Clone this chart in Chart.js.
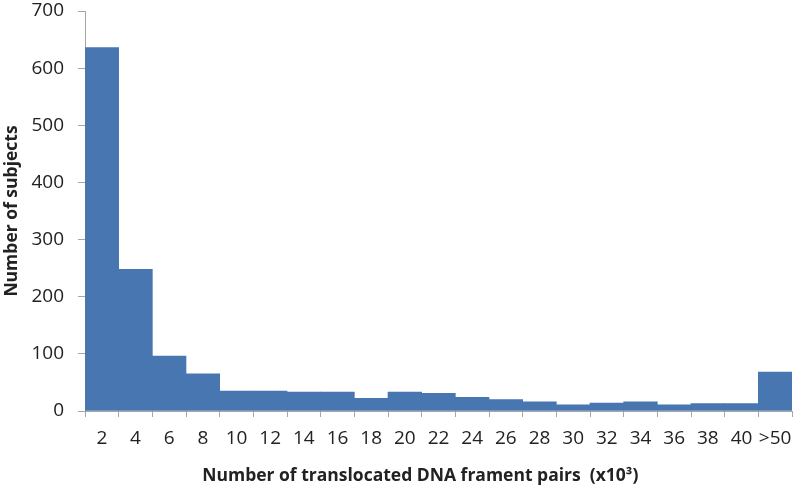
<!DOCTYPE html>
<html>
<head>
<meta charset="utf-8">
<script src="https://cdn.jsdelivr.net/npm/chart.js@4"></script>
<style>
  html, body { margin: 0; padding: 0; background: #ffffff; }
  #wrap { width: 800px; height: 493px; }
</style>
</head>
<body>
<div id="wrap"><canvas id="graphHist"></canvas></div>
<script>
// bins of translocated DNA fragment pairs (x10^3)
const binLabels = ['2', '4', '6', '8', '10', '12', '14', '16', '18', '20', '22',
                   '24', '26', '28', '30', '32', '34', '36', '38', '40', '>50'];
// number of subjects per bin
const subjectCounts = [636, 248, 96, 65, 35, 35, 33, 33, 22, 33, 31,
                       24, 20, 16, 11, 14, 16, 11, 13, 13, 68];
const yTicks = [0, 100, 200, 300, 400, 500, 600, 700];

const textColor = '#222222';
const axisColor = '#a6a6a6';
const fontFamily = "'Open Sans', 'Noto Sans', sans-serif";

const ctx = document.getElementById('graphHist').getContext('2d');

new Chart(ctx, {
    type: 'bar',
    data: {
        labels: binLabels,
        datasets: [{
            label: 'Number of subjects',
            data: subjectCounts,
            backgroundColor: '#4776b0',
            borderWidth: 0,
            barPercentage: 1,
            categoryPercentage: 1
        }]
    },
    options: {
        responsive: true,
        maintainAspectRatio: false,
        animation: false,
        layout: {
            padding: { top: 11, right: 8, left: 0, bottom: 0 }
        },
        plugins: {
            legend: { display: false },
            tooltip: { enabled: false }
        },
        scales: {
            x: {
                offset: true,
                grid: {
                    offset: true,
                    drawOnChartArea: false,
                    drawTicks: true,
                    tickLength: 6,
                    color: axisColor
                },
                border: { color: axisColor, width: 1 },
                ticks: {
                    color: textColor,
                    font: { family: fontFamily, size: 19 },
                    padding: 10,
                    maxRotation: 0,
                    autoSkip: false
                },
                title: {
                    display: true,
                    // trailing spaces nudge the centred title a bit to the left, like the original
                    text: 'Number of translocated DNA frament pairs  (x10\u00B3)        ',
                    color: textColor,
                    font: { family: fontFamily, size: 17.5, weight: 'bold' },
                    padding: { top: 0, bottom: 6 }
                },
                afterFit: (scale) => {
                    scale.height = 82;
                    scale.paddingLeft = 0;
                    scale.paddingRight = 0;
                }
            },
            y: {
                min: 0,
                max: 700,
                afterBuildTicks: (scale) => {
                    scale.ticks = yTicks.map(v => ({ value: v }));
                },
                grid: {
                    drawOnChartArea: false,
                    drawTicks: true,
                    tickLength: 7,
                    color: axisColor
                },
                border: { color: axisColor, width: 1 },
                ticks: {
                    color: textColor,
                    font: { family: fontFamily, size: 19 },
                    padding: 14
                },
                title: {
                    display: true,
                    text: 'Number of subjects',
                    color: textColor,
                    font: { family: fontFamily, size: 17.5, weight: 'bold' },
                    padding: { top: 2, bottom: 0 }
                },
                afterFit: (scale) => {
                    scale.width = 85;
                    scale.paddingTop = 0;
                    scale.paddingBottom = 0;
                }
            }
        }
    }
});
</script>
</body>
</html>
